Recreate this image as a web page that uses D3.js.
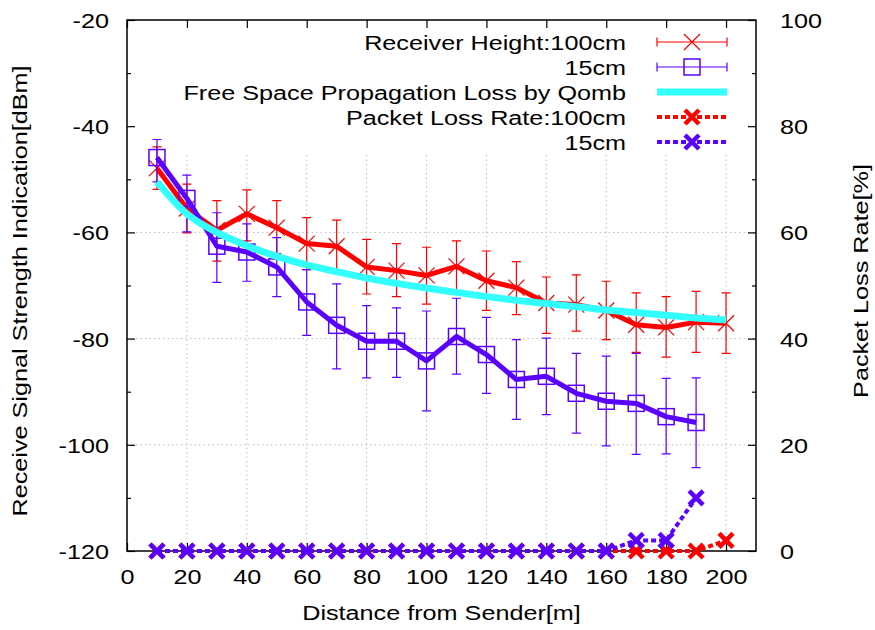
<!DOCTYPE html>
<html>
<head>
<meta charset="utf-8">
<title>RSSI vs distance</title>
<script src="https://cdn.jsdelivr.net/npm/d3@7"></script>
<style>
    body { margin: 0; background: #fff; }
    text { font-family: "Liberation Sans", Arial, Helvetica, sans-serif; font-size: 21px; fill: #000; }
    .grid line { stroke: #bdbdbd; stroke-dasharray: 1.5,3; }
</style>
</head>
<body>
<script>
// distance [m]
var distance = [10, 20, 30, 40, 50, 60, 70, 80, 90, 100, 110, 120, 130, 140, 150, 160, 170, 180, 190, 200];

// receiver height 100cm: mean, upper and lower error ends [dBm]
var rssi100   = [-47.9, -55.5, -59.6, -56.5, -59.1, -62.1, -62.6, -66.5, -67.2, -68.1, -66.4, -69.1, -70.4, -73.3, -73.6, -74.7, -77.4, -77.9, -76.9, -77.1];
var rssi100Hi = [-43.9, -50.9, -54.0, -52.0, -54.0, -57.2, -57.7, -61.3, -62.1, -62.8, -61.6, -63.5, -65.5, -68.4, -68.0, -69.2, -71.4, -72.1, -71.1, -71.4];
var rssi100Lo = [-51.9, -60.1, -65.4, -61.6, -64.0, -67.0, -67.5, -71.6, -72.1, -73.5, -71.5, -74.7, -75.5, -79.0, -78.6, -80.2, -82.6, -83.5, -82.6, -82.8];

// receiver height 15cm (no value at 200m)
var rssi15   = [-45.9, -53.6, -62.6, -63.7, -66.5, -73.1, -77.5, -80.5, -80.5, -84.2, -79.6, -83.0, -87.7, -87.1, -90.3, -91.8, -92.2, -94.7, -95.8];
var rssi15Hi = [-42.5, -49.2, -56.3, -58.4, -61.0, -67.0, -69.7, -73.8, -74.2, -74.8, -72.4, -76.0, -80.2, -79.9, -82.8, -83.3, -82.8, -87.5, -87.4];
var rssi15Lo = [-50.5, -59.9, -69.4, -69.2, -72.1, -79.4, -85.7, -87.4, -87.3, -93.6, -86.7, -90.3, -95.2, -94.3, -97.8, -100.2, -101.8, -101.7, -104.3];

// free space propagation loss by Qomb
var freeSpace = [-50.5, -56.5, -60.0, -62.5, -64.5, -66.1, -67.4, -68.6, -69.6, -70.5, -71.3, -72.1, -72.8, -73.4, -74.0, -74.6, -75.1, -75.6, -76.1, -76.5];

// packet loss rate [%]
var plr100 = [0, 0, 0, 0, 0, 0, 0, 0, 0, 0, 0, 0, 0, 0, 0, 0, 0, 0, 0, 2];
var plr15  = [0, 0, 0, 0, 0, 0, 0, 0, 0, 0, 0, 0, 0, 0, 0, 0, 2, 2, 10];

var legendLabels = ["Receiver Height:100cm", "15cm", "Free Space Propagation Loss by Qomb", "Packet Loss Rate:100cm", "15cm"];

var RED = "#ff0000", PURPLE = "#5a00ff", CYAN = "#33ffff";
var SX = 1.2; // wide glyphs in the original

var pL = 127, pR = 756, pT = 20, pB = 551;

var svg = d3.select("body").append("svg")
        .attr("width", 875)
        .attr("height", 630);

var x = d3.scaleLinear().domain([0, 210]).range([pL, pR]);
var y = d3.scaleLinear().domain([-120, -20]).range([pB, pT]);
var y2 = d3.scaleLinear().domain([0, 100]).range([pB, pT]);

function label(g, px, py, str, anchor, rot) {
    return g.append("text")
        .attr("transform", "translate(" + px + "," + py + ") rotate(" + (rot || 0) + ") scale(" + SX + ",1)")
        .attr("text-anchor", anchor)
        .text(str);
}

// grid
var grid = svg.append("g").attr("class", "grid");
grid.selectAll("line.v").data(d3.range(20, 201, 20)).enter().append("line")
    .attr("x1", function (d) { return x(d); }).attr("x2", function (d) { return x(d); })
    .attr("y1", pT).attr("y2", pB);
grid.selectAll("line.h").data(d3.range(-100, -39, 20)).enter().append("line")
    .attr("y1", function (d) { return y(d); }).attr("y2", function (d) { return y(d); })
    .attr("x1", pL).attr("x2", pR);

// opaque key area
svg.append("rect").attr("x", pL + 1).attr("y", pT + 1)
    .attr("width", 620).attr("height", 131).attr("fill", "#fff");

// axes
function styleAxis(g) {
    g.select(".domain").remove();
    g.selectAll(".tick line").attr("stroke", "#000").attr("stroke-width", 1.2);
    g.attr("font-size", null).attr("font-family", null);
}

var plain = function (d) { return String(d); }; // ascii hyphen, like the original
var majorY = d3.range(-120, -19, 20), minorY = d3.range(-110, -20, 20);
var majorX = d3.range(0, 201, 20);

var gl = svg.append("g").attr("transform", "translate(" + pL + ",0)")
    .call(d3.axisLeft(y).tickValues(majorY).tickSize(-8).tickPadding(15).tickFormat(plain));
styleAxis(gl);
gl.selectAll(".tick text").attr("transform", "scale(" + SX + ",1)").attr("dy", "0.36em");
svg.append("g").attr("transform", "translate(" + pL + ",0)")
    .call(d3.axisLeft(y).tickValues(minorY).tickSize(-4).tickFormat("")).call(styleAxis);

var gr = svg.append("g").attr("transform", "translate(" + pR + ",0)")
    .call(d3.axisRight(y2).tickValues(d3.range(0, 101, 20)).tickSize(-8).tickPadding(20).tickFormat(plain));
styleAxis(gr);
gr.selectAll(".tick text").attr("transform", "scale(" + SX + ",1)").attr("dy", "0.36em");
svg.append("g").attr("transform", "translate(" + pR + ",0)")
    .call(d3.axisRight(y2).tickValues(d3.range(10, 100, 20)).tickSize(-4).tickFormat("")).call(styleAxis);

var gb = svg.append("g").attr("transform", "translate(0," + pB + ")")
    .call(d3.axisBottom(x).tickValues(majorX).tickSize(-8).tickPadding(18).tickFormat(plain));
styleAxis(gb);
gb.selectAll(".tick text").attr("transform", "scale(" + SX + ",1)").attr("x", 0);
svg.append("g").attr("transform", "translate(0," + pT + ")")
    .call(d3.axisTop(x).tickValues(majorX).tickSize(-8).tickFormat("")).call(styleAxis);

svg.append("rect").attr("x", pL).attr("y", pT)
    .attr("width", pR - pL).attr("height", pB - pT)
    .attr("fill", "none").attr("stroke", "#000").attr("stroke-width", 1.5);

// axis titles
label(svg, x(105), 620, "Distance from Sender[m]", "middle");
label(svg, 27, 291, "Receive Signal Strength Indication[dBm]", "middle", -90);
label(svg, 868, 281, "Packet Loss Rate[%]", "middle", -90);

// markers
function cross(g, cx, cy, r, color, w) {
    g.append("path")
        .attr("d", "M" + (cx - r) + "," + (cy - r) + "L" + (cx + r) + "," + (cy + r) +
                   "M" + (cx - r) + "," + (cy + r) + "L" + (cx + r) + "," + (cy - r))
        .attr("stroke", color).attr("stroke-width", w).attr("fill", "none");
}
function square(g, cx, cy, r, color) {
    g.append("rect").attr("x", cx - r).attr("y", cy - r)
        .attr("width", 2 * r).attr("height", 2 * r)
        .attr("fill", "none").attr("stroke", color).attr("stroke-width", 1.5);
}

// key
var key = svg.append("g");
var keyRows = [42, 67, 92, 117, 142];
legendLabels.forEach(function (t, i) {
    label(key, 626, keyRows[i] + 7.5, t, "end");
});
[RED, PURPLE].forEach(function (c, i) {
    var yy = keyRows[i];
    key.append("path")
        .attr("d", "M657," + yy + "H727M657," + (yy - 4.5) + "V" + (yy + 4.5) + "M727," + (yy - 4.5) + "V" + (yy + 4.5))
        .attr("stroke", c).attr("stroke-width", 1.2).attr("fill", "none");
    if (i === 0) cross(key, 692, yy, 8, c, 1.2); else square(key, 692, yy, 8, c);
});
key.append("line").attr("x1", 657).attr("x2", 727).attr("y1", keyRows[2]).attr("y2", keyRows[2])
    .attr("stroke", CYAN).attr("stroke-width", 7);
[RED, PURPLE].forEach(function (c, i) {
    var yy = keyRows[3 + i];
    key.append("line").attr("x1", 657).attr("x2", 727).attr("y1", yy).attr("y2", yy)
        .attr("stroke", c).attr("stroke-width", 4).attr("stroke-dasharray", "5,3");
    cross(key, 692, yy, 7, c, 4.5);
});

// data
var plot = svg.append("g");

function rssiSeries(mean, hi, lo, color, marker) {
    var g = plot.append("g");
    mean.forEach(function (v, i) {
        var px = x(distance[i]);
        g.append("path")
            .attr("d", "M" + px + "," + y(hi[i]) + "V" + y(lo[i]) +
                       "M" + (px - 4.5) + "," + y(hi[i]) + "H" + (px + 4.5) +
                       "M" + (px - 4.5) + "," + y(lo[i]) + "H" + (px + 4.5))
            .attr("stroke", color).attr("stroke-width", 1.2).attr("fill", "none");
        if (marker === "x") cross(g, px, y(v), 8, color, 1.2); else square(g, px, y(v), 8, color);
    });
    g.append("path")
        .datum(mean)
        .attr("d", d3.line().x(function (d, i) { return x(distance[i]); }).y(function (d) { return y(d); }))
        .attr("fill", "none").attr("stroke", color).attr("stroke-width", 5).attr("stroke-linejoin", "round");
}

rssiSeries(rssi100, rssi100Hi, rssi100Lo, RED, "x");
rssiSeries(rssi15, rssi15Hi, rssi15Lo, PURPLE, "sq");

plot.append("path").datum(freeSpace)
    .attr("d", d3.line().curve(d3.curveMonotoneX).x(function (d, i) { return x(distance[i]); }).y(function (d) { return y(d); }))
    .attr("fill", "none").attr("stroke", CYAN).attr("stroke-width", 7);

function plrSeries(vals, color) {
    var g = plot.append("g");
    g.append("path").datum(vals)
        .attr("d", d3.line().x(function (d, i) { return x(distance[i]); }).y(function (d) { return y2(d); }))
        .attr("fill", "none").attr("stroke", color).attr("stroke-width", 4).attr("stroke-dasharray", "5,3");
    vals.forEach(function (v, i) { cross(g, x(distance[i]), y2(v), 7, color, 4.5); });
}
plrSeries(plr100, RED);
plrSeries(plr15, PURPLE);
</script>
</body>
</html>
